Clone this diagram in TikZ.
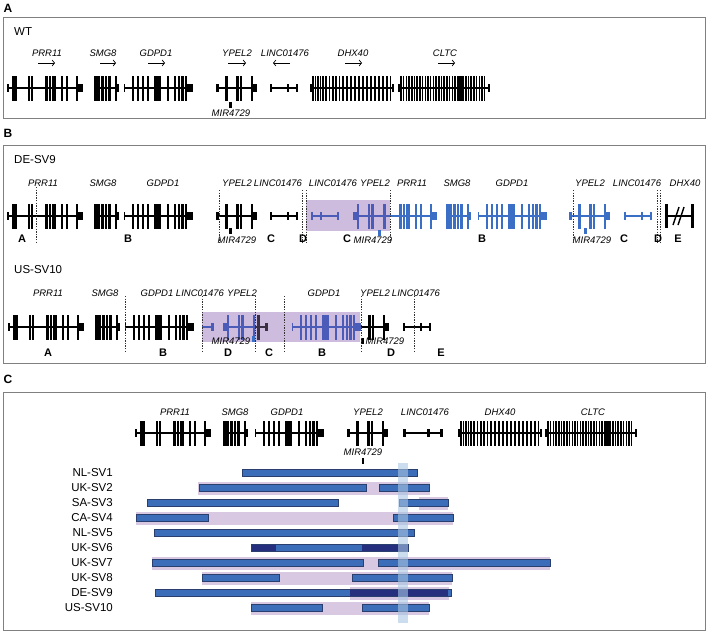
\documentclass[tikz,border=0pt]{standalone}
\usepackage{fontspec}
\setmainfont{Liberation Sans}
\usetikzlibrary{arrows.meta}
\definecolor{gblue}{HTML}{3B6FC5}
\definecolor{gvio}{HTML}{4B5CB8}
\definecolor{gdark}{HTML}{3A3042}
\definecolor{purB}{HTML}{CDBCDE}
\definecolor{purC}{HTML}{D8C8E2}
\definecolor{barblue}{HTML}{3C6DB8}
\definecolor{barline}{HTML}{2A3F6E}
\definecolor{navy}{HTML}{262F7E}
\definecolor{band}{HTML}{A9C6E4}
\definecolor{frame}{HTML}{808080}
\newcommand\gLn[2]{\draw[line width=1.5pt] (#1,0) -- (#2,0);}
\newcommand\gEx[2]{\fill ({#1-#2*0.68},-12.5) rectangle ({#1+#2*0.68},12.5);}
\newcommand\gUt[2]{\fill (#1,-4.2) rectangle (#2,4.2);}
\newcommand\gPRR{\gLn{0}{76}\gUt{0}{1.8}\gEx{7.5}{3}\gEx{22}{2}\gEx{25}{2}\gEx{39.5}{2.5}\gEx{43}{2}\gEx{47}{2.5}\gEx{55}{2}\gEx{60}{2}\gEx{70}{1.5}\gUt{71}{76}}
\newcommand\gSMG{\gLn{0}{24}\gUt{0}{1.2}\gEx{3}{4.5}\gEx{8.5}{2}\gEx{12}{2}\gEx{15.5}{2}\gEx{22}{1.5}\gUt{23}{24.5}}
\newcommand\gGDP{\gLn{0}{69}\gUt{0}{1.4}\gEx{9}{2}\gEx{14}{2}\gEx{19}{2}\gEx{24}{2}\gEx{33.5}{4.5}\gEx{44}{2}\gEx{51}{2}\gEx{55}{2}\gEx{58.5}{2}\gEx{62}{2}\gUt{63}{69}}
\newcommand\gYPL{\gLn{0}{41}\gUt{0}{2.8}\gEx{10}{2.2}\gEx{21.5}{2}\gEx{25}{2}\gEx{36}{1.5}\gUt{37}{41}}
\newcommand\gLNC{\gLn{0}{28}\gUt{0}{2.2}\gUt{17}{19.2}\gUt{25.8}{28}}
\newcommand\gDHX{\gLn{0}{83}\gUt{0}{1.8}\gUt{81.7}{83.5}\foreach \p in {3,5.5,8,10.5,13,16,19.5,23,26,29.5,33,37,41,45,49,53,57,61,65,69,73,77,80.5}{\gEx{\p}{1.05}}}
\newcommand\gCLT{\gLn{0}{92}\gUt{0}{1.8}\gUt{90.2}{92}\foreach \i in {0,...,31}{\gEx{3+\i*2.7}{1.05}}\gEx{62}{3}}
\newcommand\placegene[4][]{\begin{scope}[shift={(#3,#4)},#1]\csname g#2\endcsname\end{scope}}
\newcommand\svbar[3]{\draw[barst] (#1,#3-3.3) rectangle (#2,#3+3.3);}
\newcommand\svnavy[3]{\fill[navy] (#1,#3-3.3) rectangle (#2,#3+3.3);}
\newcommand\svpur[3]{\fill[purC] (#1,#3-6.5) rectangle (#2,#3+6.5);}
\tikzset{
  glab/.style={font=\fontsize{9.5}{10}\selectfont\itshape, inner sep=0pt},
  plab/.style={font=\fontsize{12}{13}\selectfont\bfseries, inner sep=0pt},
  slab/.style={font=\fontsize{11}{12}\selectfont\bfseries, inner sep=0pt},
  tlab/.style={font=\fontsize{11.5}{12}\selectfont, inner sep=0pt},
  panel/.style={draw=frame, line width=0.9pt},
  brk/.style={draw=black!80, line width=0.8pt, dash pattern=on 1.3pt off 1.3pt},
  garrow/.style={-{Straight Barb[length=2.5pt,width=6pt]}, line width=0.7pt},
  barst/.style={fill=barblue, draw=barline, line width=0.6pt}
}
\begin{document}
\begin{tikzpicture}[x=1pt,y=-1pt]
\useasboundingbox (0,0) rectangle (708,632);
% ================= Panel A =================
\node[plab] (labA) at (8,8) {A};
\draw[panel] (3,17) rectangle (705,118);
\node[tlab, anchor=west] (wt) at (14,32) {WT};
\foreach \n/\x in {PRR11/47, SMG8/103, GDPD1/156, YPEL2/237, LINC01476/285, DHX40/353, CLTC/445}
  \node[glab] (a\n) at (\x,53) {\n};
\draw[garrow] (38,63) -- (55,63);
\draw[garrow] (100,63) -- (116,63);
\draw[garrow] (148,63) -- (165,63);
\draw[garrow] (228,63) -- (246,63);
\draw[garrow] (290,63) -- (273,63);
\draw[garrow] (345,63) -- (362,63);
\draw[garrow] (438,63) -- (455,63);
\placegene{PRR}{7}{88}
\placegene{SMG}{94}{88}
\placegene{GDP}{124}{88}
\placegene{YPL}{216}{88}
\placegene{LNC}{270}{88}
\placegene{DHX}{310}{88}
\placegene{CLT}{398}{88}
\fill (229,102) rectangle (231.5,107.5);
\node[glab] (amir) at (231,113) {MIR4729};
% ================= Panel B =================
\node[plab] (labB) at (8,133) {B};
\draw[panel] (3,145) rectangle (705,363);
\node[tlab, anchor=west] (de) at (14,160) {DE-SV9};
% row 1 labels
\foreach \n/\x [count=\k] in {PRR11/43, SMG8/103, GDPD1/163, YPEL2/237, LINC01476/278, LINC01476/333, YPEL2/375, PRR11/412, SMG8/457, GDPD1/512, YPEL2/590, LINC01476/637, DHX40/685}
  \node[glab] (b1l\k) at (\x,183) {\n};
% row 1 genes
\placegene{PRR}{7}{216}
\placegene{SMG}{94}{216}
\placegene{GDP}{124}{216}
\placegene{YPL}{216}{216}
\placegene{LNC}{270}{216}
\fill[purB] (306,200) rectangle (390,231);
\placegene[gvio,xscale=-1]{LNC}{339}{216}
\begin{scope}\clip (306,195) rectangle (390,240);
\placegene[gvio,xscale=-1]{YPL}{394}{216}
\end{scope}
\begin{scope}\clip (390,195) rectangle (445,240);
\placegene[gblue]{PRR}{361}{216}
\end{scope}
\placegene[gblue]{SMG}{446}{216}
\placegene[gblue]{GDP}{478}{216}
\placegene[gblue]{YPL}{569}{216}
\placegene[gblue]{LNC}{624}{216}
% DHX40 fragment
\draw[line width=1.5pt] (665,216) -- (693,216);
\fill (665,204) rectangle (667.5,228);
\fill (691,204) rectangle (693.5,228);
\draw[line width=1.4pt] (673,225) -- (679,207);
\draw[line width=1.4pt] (678,225) -- (684,207);
% MIR row 1
\fill (229,228) rectangle (231.5,234);
\node[glab] (b1m1) at (237,240) {MIR4729};
\fill[gblue] (378,230) rectangle (380.5,236);
\node[glab] (b1m2) at (373,240) {MIR4729};
\fill[gblue] (584,228) rectangle (586.5,234);
\node[glab] (b1m3) at (592,240) {MIR4729};
% breakpoints row 1
\draw[brk] (36,187) -- (36,243);
\foreach \x in {219,302,306,390,573,657,660}
  \draw[brk] (\x,190) -- (\x,243);
\foreach \t/\x [count=\k] in {A/22, B/128, C/271, D/303, C/347, B/482, C/624, D/658, E/678}
  \node[slab] (b1s\k) at (\x,239) {\t};
% row 2
\node[tlab, anchor=west] (us) at (14,270) {US-SV10};
\foreach \n/\x [count=\k] in {PRR11/48, SMG8/105, GDPD1/157, LINC01476/200, YPEL2/242, GDPD1/324, YPEL2/375, LINC01476/416}
  \node[glab] (b2l\k) at (\x,293) {\n};
\placegene{PRR}{8}{327}
\placegene{SMG}{95}{327}
\placegene{GDP}{125}{327}
\fill[purB] (202,312) rectangle (360,342);
\draw[gvio, line width=1.5pt] (202,327) -- (213,327);
\fill[gvio] (211,323) rectangle (213.5,331);
\begin{scope}\clip (202,305) rectangle (255,350);
\placegene[gvio,xscale=-1]{YPL}{264}{327}
\end{scope}
\begin{scope}\clip (255,305) rectangle (275,350);
\placegene[gdark,xscale=-1]{YPL}{268}{327}
\end{scope}
\placegene[gvio]{GDP}{292}{327}
\begin{scope}\clip (361,305) rectangle (400,350);
\placegene{YPL}{348}{327}
\end{scope}
\placegene{LNC}{403}{327}
\fill[gblue] (252,336) rectangle (254.5,342);
\node[glab] (b2m1) at (231,341) {MIR4729};
\fill (361,338) rectangle (363.5,344);
\node[glab] (b2m2) at (385,341) {MIR4729};
\foreach \x in {125,202,255,284,361,414}
  \draw[brk] (\x,296) -- (\x,353);
\foreach \t/\x [count=\k] in {A/48, B/163, D/228, C/269, B/322, D/391, E/441}
  \node[slab] (b2s\k) at (\x,353) {\t};
% ================= Panel C =================
\node[plab] (labC) at (8,379) {C};
\draw[panel] (3,392) rectangle (705,630);
\foreach \n/\x in {PRR11/175, SMG8/235, GDPD1/287, YPEL2/368, LINC01476/425, DHX40/500, CLTC/593}
  \node[glab] (c\n) at (\x,412) {\n};
\placegene{PRR}{135}{433}
\placegene{SMG}{223}{433}
\placegene{GDP}{255}{433}
\placegene{YPL}{347}{433}
\placegene[xscale=1.43]{LNC}{403}{433}
\placegene{DHX}{458}{433}
\placegene{CLT}{545}{433}
\node[glab] (cmir) at (363,452) {MIR4729};
\fill (361.8,458) rectangle (364.2,464);
\foreach \n/\y [count=\k] in {NL-SV1/473, UK-SV2/488, SA-SV3/503, CA-SV4/518, NL-SV5/533, UK-SV6/548, UK-SV7/563, UK-SV8/578, DE-SV9/593, US-SV10/608}
  \node[tlab, anchor=east] (sv\k) at (113,\y) {\n};
% purple bands
\svpur{198}{430}{488}
\svpur{419}{448}{503}
\svpur{136}{453}{518}
\svpur{152}{550}{563}
\svpur{202}{452}{578}
\svpur{350}{449}{593}
\svpur{251}{429}{608}
% bars
\svbar{242}{417}{473}
\svbar{199}{366}{488}
\svbar{379}{429}{488}
\svbar{147}{338}{503}
\svbar{399}{448}{503}
\svbar{136}{208}{518}
\svbar{393}{453}{518}
\svbar{154}{414}{533}
\svbar{251}{408}{548}
\svnavy{251.3}{276}{548}
\svnavy{362}{407.7}{548}
\draw[barline, line width=0.6pt] (251,544.7) rectangle (408,551.3);
\svbar{152}{363}{563}
\svbar{378}{550}{563}
\svbar{202}{279}{578}
\svbar{352}{452}{578}
\svbar{155}{451}{593}
\svnavy{350}{448}{593}
\draw[barline, line width=0.6pt] (155,589.7) rectangle (451,596.3);
\svbar{251}{322}{608}
\svbar{362}{429}{608}
\fill[band, fill opacity=0.6] (398,463) rectangle (408,623);
\end{tikzpicture}
\end{document}
